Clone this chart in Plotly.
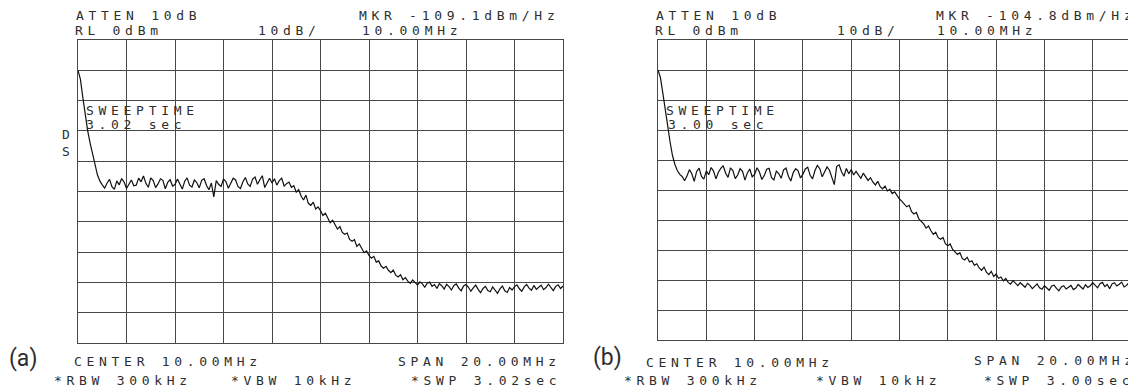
import plotly.graph_objects as go

# ---------------- data ----------------
freq_mhz = [round(0.1 * i, 1) for i in range(201)]  # sweep grid 0 .. 20 MHz

level_a = [
    -10, -13, -19, -25, -30, -34, -38, -41, -44.5, -46.5, -47.8,
    -48.9, -47.2, -46.0, -48.4, -49.3, -46.5, -47.8, -45.7, -46.9, -49.0,
    -47.6, -46.2, -48.1, -47.9, -45.6, -46.8, -44.9, -47.3, -48.6, -45.5,
    -46.4, -48.7, -47.5, -45.8, -46.3, -49.1, -47.0, -46.1, -48.2, -47.7,
    -45.9, -47.4, -49.2, -46.6, -45.5, -47.9, -48.5, -46.2, -47.1, -48.8,
    -46.3, -45.8, -48.0, -49.4, -47.2, -51.8, -46.4, -47.6, -48.3, -45.9,
    -46.7, -48.9, -47.3, -45.6, -46.2, -48.4, -49.0, -46.8, -45.4, -47.5,
    -48.3, -45.9, -45.2, -47.6, -46.1, -44.8, -48.7, -46.9, -45.6, -47.2,
    -45.8, -47.9, -46.4, -45.6, -48.2, -47.4, -46.9, -48.6,
    -48.1, -50.2, -49.4, -51.5, -52.8, -51.2, -53.9, -54.6, -53.5, -55.8, -55.1, -56.3,
    -57.9, -57.2, -58.6, -60.3, -59.5, -61.0, -62.4, -61.6, -63.5, -64.1,
    -63.7, -65.8, -66.4, -65.9, -68.1, -67.3, -69.0, -70.2, -69.6, -71.1,
    -72.0, -71.4, -73.3, -72.9, -74.6, -75.3, -74.7, -76.0, -76.8, -75.9,
    -77.6, -78.2, -77.5, -79.1, -78.4, -79.6, -80.3, -79.2, -80.0, -80.9,
    -79.8, -80.5, -81.6, -80.3, -79.9, -81.3, -80.7, -82.0, -80.4, -81.1,
    -82.2, -80.6, -81.4, -82.5, -81.0, -80.5, -81.9, -82.8, -81.2, -80.7,
    -81.6, -82.9, -81.8, -80.9, -82.3, -83.4, -82.0, -81.3, -82.7, -83.1,
    -81.5, -82.4, -83.6, -82.1, -81.2, -82.8, -83.3, -81.7, -82.5, -81.4,
    -80.8, -82.1, -82.9, -81.5, -80.7, -81.9, -82.6, -81.0, -82.3, -81.6,
    -80.9, -82.4, -81.7, -80.6, -81.8, -82.7, -81.3, -80.8, -82.0, -81.2,
]

level_b = [
    -10, -12.5, -17.7, -23.5, -29, -34, -38.5, -41.5, -43.5, -44.8, -45.5,
    -46.9, -45.3, -43.2, -44.6, -47.1, -43.8, -42.7, -45.5, -46.4, -43.6,
    -44.9, -42.5, -43.7, -46.3, -44.1, -42.8, -41.9, -44.4, -45.8, -42.6,
    -43.5, -46.2, -45.0, -42.9, -43.8, -46.7, -44.3, -43.0, -45.6, -44.8,
    -42.6, -44.0, -46.5, -45.2, -43.1, -42.8, -45.9, -46.6, -43.7, -44.5,
    -46.1, -43.3, -42.7, -45.4, -47.0, -44.2, -42.9, -43.6, -46.0, -44.7,
    -43.0, -42.4, -45.1, -46.3, -43.5, -41.8, -42.9, -45.6, -44.1, -42.3,
    -43.4, -46.0, -48.2, -42.1, -41.6, -43.9, -45.4, -42.8, -44.6, -43.2,
    -45.0, -43.8, -44.9, -46.1, -44.4,
    -45.7, -46.8, -45.9, -47.4, -48.3, -47.1, -48.9, -49.6, -48.7, -50.3, -49.8, -51.2, -50.6, -51.9, -53.0,
    -53.8, -54.9, -55.6, -55.1, -57.2, -58.0, -57.5, -59.6, -60.4, -61.3,
    -62.7, -62.0, -63.6, -64.8, -64.1, -65.9, -66.4, -65.8, -67.9, -68.6,
    -68.0, -69.8, -70.6, -71.5, -70.9, -72.8, -73.3, -72.4, -74.0, -73.6,
    -75.1, -74.6, -76.0, -76.8, -75.7, -77.4, -78.2, -77.1, -78.8, -78.0,
    -79.4, -79.0, -80.3, -79.5, -80.8, -81.4, -80.2, -81.0, -81.9, -80.9,
    -81.6, -82.4, -81.1, -81.8, -82.9, -82.2, -81.3, -82.6, -83.1, -81.9,
    -82.5, -83.4, -82.0, -81.7, -82.8, -83.6, -82.3, -81.9, -83.0, -82.4,
    -81.8, -83.2, -82.7, -81.5, -82.1, -83.0, -81.6, -82.5, -81.9, -80.9,
    -81.7, -82.6, -81.2, -80.8, -82.2, -81.5, -82.9, -81.3, -80.9, -82.0,
    -81.4, -80.7, -82.3, -81.8, -80.9, -82.1, -81.5, -81.0, -82.4, -81.6,
]

header_a = ["ATTEN 10dB", "RL 0dBm", "10dB/", "MKR -109.1dBm/Hz", "10.00MHz"]
header_b = ["ATTEN 10dB", "RL 0dBm", "10dB/", "MKR -104.8dBm/Hz", "10.00MHz"]
sweep_a = ["SWEEPTIME", "3.02 sec"]
sweep_b = ["SWEEPTIME", "3.00 sec"]
footer_a = ["CENTER 10.00MHz", "*RBW 300kHz", "*VBW 10kHz", "SPAN 20.00MHz", "*SWP 3.02sec"]
footer_b = ["CENTER 10.00MHz", "*RBW 300kHz", "*VBW 10kHz", "SPAN 20.00MHz", "*SWP 3.00sec"]
side_marks_a = ["D", "S"]
panel_labels = ["(a)", "(b)"]

# ---------------- layout constants ----------------
VIEW_W, VIEW_H = 1136, 387
OFF = 8                      # page body margin of the html page
FW, FH = VIEW_W - OFF, VIEW_H - OFF
GRID = "#474747"
TXT = "#2e2e2e"
MONO = "DejaVu Sans Mono"
LS = "4.7px"


def px(x):
    return (x - OFF) / FW


def py(y):
    return 1 - (y - OFF) / FH


fig = go.Figure()
fig.add_trace(go.Scatter(x=freq_mhz, y=level_a, mode="lines",
                         line=dict(color="#111", width=1.2),
                         xaxis="x", yaxis="y", showlegend=False))
fig.add_trace(go.Scatter(x=freq_mhz, y=level_b, mode="lines",
                         line=dict(color="#111", width=1.2),
                         xaxis="x2", yaxis="y2", showlegend=False))

axis_common = dict(showticklabels=False, ticks="", zeroline=False,
                   showgrid=True, gridcolor=GRID, gridwidth=1,
                   showline=True, linecolor=GRID, linewidth=1)

fig.update_layout(
    width=FW, height=FH,
    margin=dict(l=0, r=0, t=0, b=0, pad=0),
    paper_bgcolor="white", plot_bgcolor="white",
    xaxis=dict(domain=[px(78), px(563)], range=[0, 20], dtick=2,
               anchor="y", mirror=True, **axis_common),
    yaxis=dict(domain=[py(343), py(40)], range=[-100, 0], dtick=10,
               anchor="x", mirror=True, **axis_common),
    xaxis2=dict(domain=[px(658), 1.0], range=[0, 20 * (VIEW_W - 658) / 483], dtick=2,
                anchor="y2", mirror=True, **axis_common),
    yaxis2=dict(domain=[py(340), py(40)], range=[-100, 0], dtick=10,
                anchor="x2", mirror=False, **axis_common),
)


def txt(s, x, y, size=13, family=MONO, spaced=True):
    t = f'<span style="letter-spacing:{LS}">{s}</span>' if spaced else s
    fig.add_annotation(text=t, x=px(x), y=py(y), xref="paper", yref="paper",
                       xanchor="left", yanchor="middle", showarrow=False,
                       borderpad=0, font=dict(family=family, size=size, color=TXT))


# panel (a) texts
txt(header_a[0], 75, 15)
txt(header_a[1], 74, 31)
txt(header_a[2], 257, 31)
txt(header_a[3], 358, 15)
txt(header_a[4], 361, 31)
txt(sweep_a[0], 85, 110)
txt(sweep_a[1], 85, 124)
txt(side_marks_a[0], 61, 135)
txt(side_marks_a[1], 61, 151)
txt(footer_a[0], 73, 361)
txt(footer_a[1], 53, 380)
txt(footer_a[2], 230, 380)
txt(footer_a[3], 397, 361)
txt(footer_a[4], 410, 380)

# panel (b) texts
txt(header_b[0], 655, 15)
txt(header_b[1], 654, 31)
txt(header_b[2], 836, 31)
txt(header_b[3], 935, 15)
txt(header_b[4], 936, 31)
txt(sweep_b[0], 665, 110)
txt(sweep_b[1], 667, 124)
txt(footer_b[0], 645, 362)
txt(footer_b[1], 623, 380)
txt(footer_b[2], 815, 380)
txt(footer_b[3], 973, 360)
txt(footer_b[4], 983, 380)

# panel labels
txt(panel_labels[0], OFF, 358, size=23, family="Liberation Sans Narrow, Roboto", spaced=False)
txt(panel_labels[1], 592, 357, size=23, family="Liberation Sans Narrow, Roboto", spaced=False)

fig.write_html("out.html")
